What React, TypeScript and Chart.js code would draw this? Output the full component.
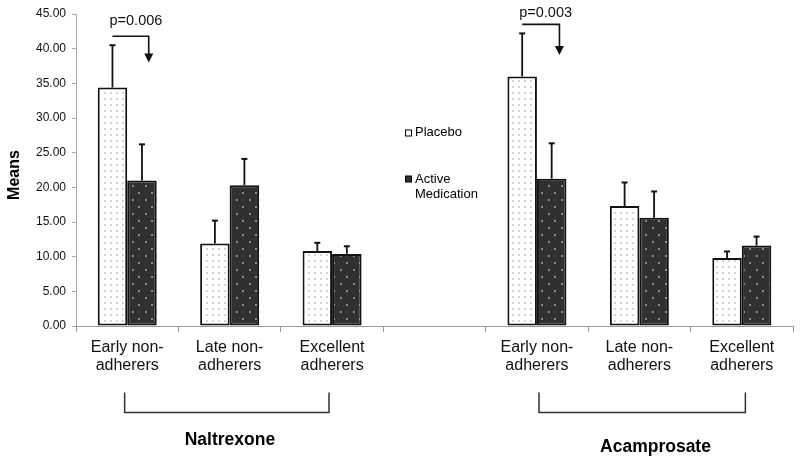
import React, { useEffect, useRef } from "react";
import { Chart, registerables } from "chart.js";

Chart.register(...registerables);

const categories: (string | string[])[] = [
  ["Early non-", "adherers"],
  ["Late non-", "adherers"],
  ["Excellent", "adherers"],
  "",
  ["Early non-", "adherers"],
  ["Late non-", "adherers"],
  ["Excellent", "adherers"],
];
const placeboMeans: (number | null)[] = [34.4, 11.9, 10.8, null, 36.0, 17.3, 9.8];
const placeboErr: (number | null)[] = [6.1, 3.3, 1.2, null, 6.2, 3.4, 0.95];
const activeMeans: (number | null)[] = [21.0, 20.3, 10.4, null, 21.25, 15.6, 11.6];
const activeErr: (number | null)[] = [5.2, 3.8, 1.1, null, 5.1, 3.8, 1.3];
const seriesNames = ["Placebo", "Active Medication"];
const groupNames = ["Naltrexone", "Acamprosate"];
const groupSpans = [
  [0, 2],
  [4, 6],
];
const pLabels = ["p=0.006", "p=0.003"];
const pCategory = [0, 4];
const pLineY = [41.8, 43.5];
const pTipY = [38.0, 39.1];
const pTextY = [44.0, 45.2];

const FONT = "'Liberation Sans', Arial, sans-serif";

function makePattern(
  bg: string,
  dot: string,
  w: number,
  h: number,
  dots: number[][]
): CanvasPattern | string {
  const c = document.createElement("canvas");
  c.width = w;
  c.height = h;
  const x = c.getContext("2d");
  if (!x) return bg;
  x.fillStyle = bg;
  x.fillRect(0, 0, w, h);
  x.fillStyle = dot;
  dots.forEach(([a, b]) => x.fillRect(a, b, 2, 2));
  return x.createPattern(c, "repeat") || bg;
}

export default function App() {
  const ref = useRef<HTMLCanvasElement | null>(null);

  useEffect(() => {
    document.body.style.margin = "0";
    const canvas = ref.current;
    if (!canvas) return;
    const placeboFill = makePattern("#ffffff", "#d2d2d2", 6, 6, [[2, 2]]);
    const activeFill = makePattern("#303030", "#8a8a8a", 13, 14, [
      [2, 3],
      [8, 10],
    ]);
    const errs = [placeboErr, activeErr];

    const extras = {
      id: "extras",
      afterDatasetsDraw(chart: any) {
        const ctx = chart.ctx as CanvasRenderingContext2D;
        const xs = chart.scales.x;
        const ys = chart.scales.y;
        const catW = xs.getPixelForValue(1) - xs.getPixelForValue(0);
        ctx.save();
        // error bars
        ctx.strokeStyle = "#111";
        chart.data.datasets.forEach((ds: any, di: number) => {
          const meta = chart.getDatasetMeta(di);
          meta.data.forEach((el: any, i: number) => {
            const v = ds.data[i];
            const e = errs[di][i];
            if (v == null || e == null) return;
            const top = ys.getPixelForValue(v + e);
            ctx.lineWidth = 1.8;
            ctx.beginPath();
            ctx.moveTo(el.x, el.y);
            ctx.lineTo(el.x, top);
            ctx.stroke();
            ctx.lineWidth = 2;
            ctx.beginPath();
            ctx.moveTo(el.x - 3, top);
            ctx.lineTo(el.x + 3, top);
            ctx.stroke();
          });
        });
        // p-value annotations
        const arrowDx = [0.21, 0.22];
        pLabels.forEach((lab, k) => {
          const c = pCategory[k];
          const cx = xs.getPixelForValue(c);
          const x0 = chart.getDatasetMeta(0).data[c].x;
          const x1 = cx + catW * arrowDx[k];
          const yl = ys.getPixelForValue(pLineY[k]);
          const yt = ys.getPixelForValue(pTipY[k]);
          ctx.strokeStyle = "#111";
          ctx.fillStyle = "#111";
          ctx.lineWidth = 1.6;
          ctx.beginPath();
          ctx.moveTo(x0, yl);
          ctx.lineTo(x1, yl);
          ctx.lineTo(x1, yt - 7);
          ctx.stroke();
          ctx.beginPath();
          ctx.moveTo(x1 - 4.5, yt - 9);
          ctx.lineTo(x1 + 4.5, yt - 9);
          ctx.lineTo(x1, yt);
          ctx.closePath();
          ctx.fill();
          ctx.font = `14.5px ${FONT}`;
          ctx.textAlign = "center";
          ctx.textBaseline = "middle";
          ctx.fillText(lab, cx + catW * 0.085, ys.getPixelForValue(pTextY[k]));
        });
        // legend
        ctx.textAlign = "left";
        ctx.textBaseline = "middle";
        ctx.font = `13px ${FONT}`;
        ctx.lineWidth = 1;
        ctx.strokeStyle = "#000";
        ctx.fillStyle = "#fff";
        ctx.fillRect(405.5, 130, 6, 6);
        ctx.strokeRect(405.5, 130, 6, 6);
        ctx.fillStyle = "#303030";
        ctx.fillRect(405.5, 176, 6, 6);
        ctx.strokeRect(405.5, 176, 6, 6);
        ctx.fillStyle = "#000";
        ctx.fillText(seriesNames[0], 415, 132.5);
        ctx.fillText("Active", 415, 179);
        ctx.fillText("Medication", 415, 194);
        // y title
        ctx.save();
        ctx.translate(15, 175);
        ctx.rotate(-Math.PI / 2);
        ctx.font = `bold 16px ${FONT}`;
        ctx.textAlign = "center";
        ctx.fillText("Means", 0, 0);
        ctx.restore();
        // brackets and group names
        const offs = [
          [-0.025, -0.03],
          [0.02, 0.035],
        ];
        const nameBase = [445, 452];
        const nameDx = [0.03, 0.13];
        groupSpans.forEach(([a, b], g) => {
          const xa = xs.getPixelForValue(a) + offs[g][0] * catW;
          const xb = xs.getPixelForValue(b) + offs[g][1] * catW;
          ctx.strokeStyle = "#333";
          ctx.lineWidth = 1.5;
          ctx.beginPath();
          ctx.moveTo(xa, 392.5);
          ctx.lineTo(xa, 412.5);
          ctx.lineTo(xb, 412.5);
          ctx.lineTo(xb, 392.5);
          ctx.stroke();
          ctx.font = `bold 17.5px ${FONT}`;
          ctx.textAlign = "center";
          ctx.textBaseline = "alphabetic";
          ctx.fillStyle = "#000";
          ctx.fillText(groupNames[g], (xa + xb) / 2 + nameDx[g] * catW, nameBase[g]);
        });
        ctx.restore();
      },
    };

    const chart = new Chart(canvas, {
      type: "bar",
      data: {
        labels: categories,
        datasets: [
          {
            label: seriesNames[0],
            data: placeboMeans,
            backgroundColor: placeboFill as any,
            borderColor: "#111",
            borderWidth: 2,
            borderSkipped: false,
            categoryPercentage: 0.576,
            barPercentage: 1,
          },
          {
            label: seriesNames[1],
            data: activeMeans,
            backgroundColor: activeFill as any,
            borderColor: "#111",
            borderWidth: 2,
            borderSkipped: false,
            categoryPercentage: 0.576,
            barPercentage: 1,
          },
        ],
      },
      options: {
        animation: false,
        responsive: false,
        layout: { padding: { left: 0, right: 7, top: 14, bottom: 0 } },
        plugins: {
          legend: { display: false },
          tooltip: { enabled: false },
        },
        scales: {
          x: {
            grid: {
              drawOnChartArea: false,
              drawTicks: true,
              tickLength: 6,
              color: "#999",
              offset: true,
            },
            border: { display: true, color: "#999", width: 1 },
            ticks: {
              autoSkip: false,
              maxRotation: 0,
              minRotation: 0,
              padding: 7,
              color: "#111",
              font: { family: FONT, size: 16, lineHeight: 1.125 },
            },
            afterFit(scale: any) {
              scale.height = 132;
            },
          },
          y: {
            min: 0,
            max: 45,
            grid: {
              drawOnChartArea: false,
              drawTicks: true,
              tickLength: 4,
              color: "#aaa",
            },
            border: { display: true, color: "#aaa", width: 1 },
            ticks: {
              stepSize: 5,
              padding: 6,
              color: "#111",
              font: { family: FONT, size: 12 },
              callback: (v: any) => Number(v).toFixed(2),
            },
            afterFit(scale: any) {
              scale.width = 76;
            },
          },
        },
      },
      plugins: [extras],
    } as any);

    return () => chart.destroy();
  }, []);

  return (
    <div style={{ position: "absolute", left: 0, top: 0, width: 800, height: 458, background: "#fff" }}>
      <canvas ref={ref} width={800} height={458} style={{ display: "block" }} />
    </div>
  );
}
